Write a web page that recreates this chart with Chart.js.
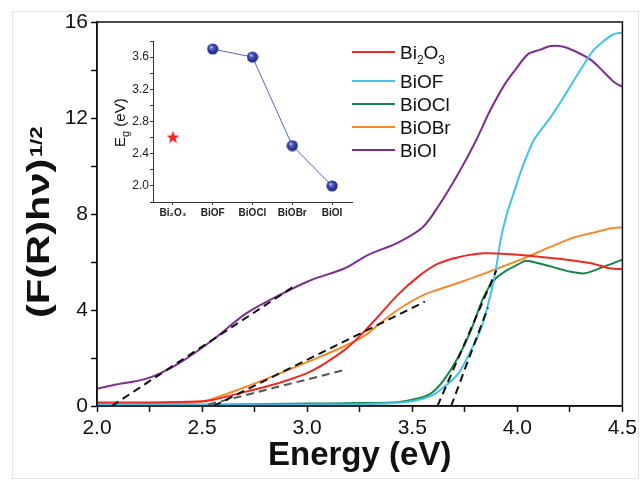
<!DOCTYPE html>
<html>
<head>
<meta charset="utf-8">
<script src="https://cdn.jsdelivr.net/npm/chart.js@4.4.1/dist/chart.umd.min.js"></script>
<style>
  html,body{margin:0;padding:0;background:#fff}
  #wrap{position:relative;width:641px;height:482px}
  #main{position:absolute;left:0;top:0}
  #inset{position:absolute;left:100px;top:25px}
</style>
</head>
<body>
<div id="wrap">
  <canvas id="main" width="641" height="482"></canvas>
  <canvas id="inset" width="260" height="200"></canvas>
</div>
<script>
// ---- data ----
const xTickLabels = ['2.0','2.5','3.0','3.5','4.0','4.5'];
const yTickLabels = ['0','4','8','12','16'];

const bi2o3Energy = [2.0,2.25,2.5,2.55,2.71,2.87,3.02,3.18,3.26,3.34,3.43,3.53,3.62,3.72,3.84,3.97,4.1,4.22,4.35,4.44,4.5];
const bi2o3Values = [0.15,0.15,0.2,0.25,0.6,0.97,1.45,2.35,3.0,3.75,4.62,5.4,5.92,6.2,6.36,6.32,6.22,6.11,5.95,5.74,5.7];

const biofEnergy = [2.0,2.5,3.0,3.3,3.5,3.59,3.65,3.72,3.78,3.83,3.87,3.9,3.92,3.95,3.98,4.02,4.08,4.16,4.24,4.3,4.36,4.41,4.46,4.5];
const biofValues = [0.05,0.05,0.06,0.08,0.2,0.42,0.78,1.36,2.33,3.3,4.55,5.8,6.9,8.0,8.8,9.85,11.1,12.05,13.15,14.0,14.8,15.2,15.5,15.55];

const bioclEnergy = [2.0,2.5,3.0,3.25,3.43,3.53,3.59,3.65,3.72,3.78,3.84,3.89,3.94,4.0,4.04,4.1,4.19,4.25,4.32,4.41,4.5];
const bioclValues = [0.03,0.05,0.1,0.12,0.16,0.32,0.53,1.08,2.05,3.17,4.55,5.25,5.6,5.88,6.05,5.95,5.74,5.6,5.53,5.8,6.1];

const biobrEnergy = [2.0,2.25,2.5,2.6,2.71,2.87,3.02,3.18,3.28,3.34,3.43,3.56,3.69,3.78,3.91,4.03,4.16,4.28,4.38,4.44,4.5];
const biobrValues = [0.08,0.08,0.18,0.45,0.8,1.36,1.9,2.5,2.96,3.4,4.0,4.65,5.04,5.32,5.74,6.15,6.64,7.05,7.26,7.4,7.45];

const bioiEnergy = [2.0,2.08,2.24,2.39,2.55,2.71,2.87,3.02,3.18,3.29,3.43,3.55,3.63,3.72,3.8,3.87,3.94,3.99,4.05,4.11,4.16,4.22,4.28,4.35,4.41,4.46,4.5];
const bioiValues = [0.72,0.875,1.15,1.78,2.75,3.86,4.63,5.25,5.74,6.3,6.8,7.45,8.4,9.7,11.0,12.3,13.4,14.0,14.65,14.85,15.0,14.97,14.76,14.42,13.93,13.5,13.3];

// tangent (extrapolation) lines: [E, value] end points
const tangentBiOI  = [[2.07,0],[2.95,5.06]];
const tangentBiOBr = [[2.555,0],[3.56,4.35]];
const tangentBi2O3 = [[2.53,0.06],[3.19,1.53]];
const tangentBiOCl = [[3.62,0],[3.90,5.65]];
const tangentBiOF  = [[3.685,0],[3.86,4.1]];

// inset: band gaps
const insetCategories = ['Bi₂O₃','BiOF','BiOCl','BiOBr','BiOI'];
const insetBi2O3Gap = [2.6,null,null,null,null];
const insetOxyhalideGap = [null,3.7,3.6,2.5,2.0];
const insetYTickLabels = ['2.0','2.4','2.8','3.2','3.6'];

const FONT = '"Liberation Sans", Arial, Helvetica, sans-serif';

function zip(xs, ys){ return xs.map((x,i)=>({x:x, y:ys[i]})); }
function pts(arr){ return arr.map(p=>({x:p[0], y:p[1]})); }

function curve(label, xs, ys, color){
  return {label:label, data:zip(xs,ys), borderColor:color, backgroundColor:color, borderWidth:2,
    pointRadius:0, tension:0.3, fill:false, order:0, inLegend:true};
}
function tangent(p, color){
  return {label:'', data:pts(p), borderColor:color, borderWidth:2, borderDash:[8,5],
    pointRadius:0, tension:0, fill:false, order:-1, inLegend:false};
}

// ---- plugins for the main chart ----
const framePlugin = {
  id:'frame',
  beforeDraw(chart){
    const ctx = chart.ctx; ctx.save();
    ctx.strokeStyle = '#e4e4e4'; ctx.lineWidth = 1;
    ctx.strokeRect(12.5, 11.5, 626, 467);
    ctx.restore();
  },
  afterDatasetsDraw(chart){
    const a = chart.chartArea, ctx = chart.ctx; ctx.save();
    ctx.strokeStyle = '#111'; ctx.lineWidth = 1.5;
    ctx.strokeRect(a.left, a.top, a.right-a.left, a.bottom-a.top);
    ctx.restore();
  }
};

const yTitleMain = '(F(R)hν)';
const yTitleSup = '1/2';
const yTitlePlugin = {
  id:'ytitle',
  afterDraw(chart){
    const ctx = chart.ctx; ctx.save();
    ctx.translate(49, 318);
    ctx.rotate(-Math.PI/2);
    ctx.scale(1.3, 1);
    ctx.fillStyle = '#111';
    ctx.textBaseline = 'alphabetic';
    ctx.font = 'bold 32px ' + FONT;
    ctx.fillText(yTitleMain, 0, 0);
    const w = ctx.measureText(yTitleMain).width;
    ctx.font = 'bold 17px ' + FONT;
    ctx.fillText(yTitleSup, w + 1, -7);
    ctx.restore();
  }
};

// draws text where unicode subscript digits become small lowered digits
function drawSubText(ctx, text, x, y, size, weight){
  const subs = '₀₁₂₃₄₅₆₇₈₉';
  let cx = x;
  for(const ch of text){
    const k = subs.indexOf(ch);
    if(k >= 0){
      ctx.font = weight + ' ' + Math.round(size*0.62) + 'px ' + FONT;
      ctx.fillText(String(k), cx, y + size*0.28);
      cx += ctx.measureText(String(k)).width;
    } else {
      ctx.font = weight + ' ' + size + 'px ' + FONT;
      ctx.fillText(ch, cx, y);
      cx += ctx.measureText(ch).width;
    }
  }
}

const legendPlugin = {
  id:'sideLegend',
  afterDraw(chart){
    const ctx = chart.ctx; ctx.save();
    let y = 52;
    chart.data.datasets.filter(d=>d.inLegend).forEach(d=>{
      ctx.strokeStyle = d.borderColor; ctx.lineWidth = 2;
      ctx.beginPath(); ctx.moveTo(352, y); ctx.lineTo(395, y); ctx.stroke();
      ctx.fillStyle = '#111'; ctx.textBaseline = 'alphabetic';
      drawSubText(ctx, d.label, 400, y + 7, 19, 'normal');
      y += /[₀-₉]/.test(d.label) ? 29 : 23;
    });
    ctx.restore();
  }
};

new Chart(document.getElementById('main'), {
  type:'line',
  data:{
    datasets:[
      curve('Bi₂O₃', bi2o3Energy, bi2o3Values, '#ec2a24'),
      curve('BiOF', biofEnergy, biofValues, '#43c1e9'),
      curve('BiOCl', bioclEnergy, bioclValues, '#16874a'),
      curve('BiOBr', biobrEnergy, biobrValues, '#f6892a'),
      curve('BiOI', bioiEnergy, bioiValues, '#7d2f8f'),
      tangent(tangentBiOI, '#111'),
      tangent(tangentBiOBr, '#111'),
      tangent(tangentBi2O3, '#555'),
      tangent(tangentBiOCl, '#111'),
      tangent(tangentBiOF, '#111')
    ]
  },
  options:{
    responsive:false, animation:false, devicePixelRatio:1,
    layout:{padding:{top:22, right:15, left:0, bottom:0}},
    plugins:{legend:{display:false}, tooltip:{enabled:false}},
    scales:{
      x:{type:'linear', min:2, max:4.5,
        ticks:{stepSize:0.25, autoSkip:false, maxRotation:0, padding:4, color:'#111',
          font:{family:FONT, size:21},
          callback:v=>{ const k=(v-2)*2; return Math.abs(k-Math.round(k))<1e-6 ? xTickLabels[Math.round(k)] : ''; }},
        grid:{drawOnChartArea:false, tickLength:6, tickWidth:1.5, tickColor:'#111'},
        border:{display:true, color:'#111', width:1.5},
        title:{display:true, text:'Energy (eV)', color:'#111', font:{family:FONT, size:33, weight:'bold'}, padding:{top:0, bottom:6}},
        afterFit:s=>{ s.height = 76; }
      },
      y:{min:0, max:16,
        ticks:{stepSize:2, autoSkip:false, padding:3, color:'#111',
          font:{family:FONT, size:21},
          callback:v=>{ return v%4===0 ? yTickLabels[v/4] : ''; }},
        grid:{drawOnChartArea:false, tickLength:6, tickWidth:1.5, tickColor:'#111'},
        border:{display:true, color:'#111', width:1.5},
        afterFit:s=>{ s.width = 97; }
      }
    }
  },
  plugins:[framePlugin, yTitlePlugin, legendPlugin]
});

// ---- inset ----
function starImage(){
  const c = document.createElement('canvas'); c.width = 16; c.height = 16;
  const g = c.getContext('2d'); g.fillStyle = '#ee2222'; g.beginPath();
  for(let i=0;i<10;i++){
    const r = i%2 ? 2.8 : 6.8, a = -Math.PI/2 + i*Math.PI/5;
    g.lineTo(8 + r*Math.cos(a), 8 + r*Math.sin(a));
  }
  g.closePath(); g.fill();
  return c;
}
function sphereImage(){
  const c = document.createElement('canvas'); c.width = 12; c.height = 12;
  const g = c.getContext('2d');
  const grd = g.createRadialGradient(4.3, 4, 0.3, 6, 6, 6);
  grd.addColorStop(0, '#eef0ff');
  grd.addColorStop(0.18, '#6172d6');
  grd.addColorStop(0.6, '#2d3b9e');
  grd.addColorStop(1, '#1b2570');
  g.fillStyle = grd; g.beginPath(); g.arc(6, 6, 5.6, 0, Math.PI*2); g.fill();
  return c;
}

const insetTitlePlugin = {
  id:'insetTitle',
  afterDraw(chart){
    const ctx = chart.ctx; ctx.save();
    ctx.translate(25, 122);
    ctx.rotate(-Math.PI/2);
    ctx.fillStyle = '#111'; ctx.textBaseline = 'alphabetic';
    ctx.font = '15px ' + FONT; ctx.fillText('E', 0, 0);
    let x = ctx.measureText('E').width;
    ctx.font = '11px ' + FONT; ctx.fillText('g', x, 4);
    x += ctx.measureText('g').width;
    ctx.font = '15px ' + FONT; ctx.fillText(' (eV)', x, 0);
    ctx.restore();
  }
};

new Chart(document.getElementById('inset'), {
  type:'line',
  data:{
    labels:insetCategories,
    datasets:[
      {label:'Bi2O3', data:insetBi2O3Gap, showLine:false, pointStyle:starImage(), pointRadius:7},
      {label:'BiOX', data:insetOxyhalideGap, borderColor:'#4f63c9', borderWidth:1, pointStyle:sphereImage(), pointRadius:6, tension:0}
    ]
  },
  options:{
    responsive:false, animation:false, devicePixelRatio:1,
    layout:{padding:{top:16, right:7, left:0, bottom:0}},
    plugins:{legend:{display:false}, tooltip:{enabled:false}},
    scales:{
      x:{type:'category', offset:true,
        ticks:{padding:2, color:'#222', maxRotation:0, autoSkip:false, font:{family:FONT, size:10, weight:'bold'}},
        grid:{offset:false, drawOnChartArea:false, tickLength:3, tickColor:'#333', tickWidth:1},
        border:{display:true, color:'#333', width:1},
        afterFit:s=>{ s.height = 23; }
      },
      y:{min:1.8, max:3.8,
        ticks:{stepSize:0.2, autoSkip:false, padding:1, color:'#222', font:{family:FONT, size:12},
          callback:v=>{ const k=Math.round(v*10); return (k%4===0) ? insetYTickLabels[(k-20)/4] : ''; }},
        grid:{drawOnChartArea:false, tickLength:3, tickColor:'#333', tickWidth:1},
        border:{display:true, color:'#333', width:1},
        afterFit:s=>{ s.width = 53; }
      }
    }
  },
  plugins:[insetTitlePlugin]
});
</script>
</body>
</html>
